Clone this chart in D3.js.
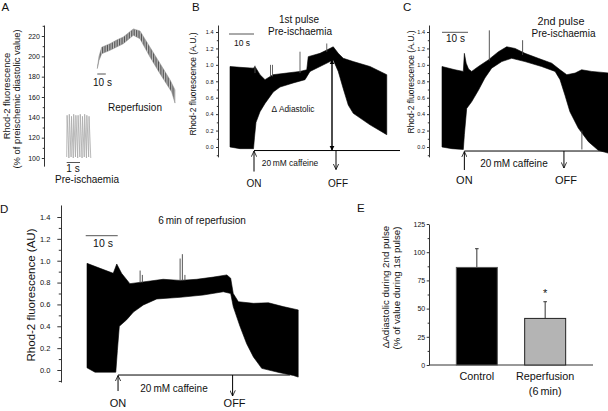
<!DOCTYPE html>
<html><head><meta charset="utf-8">
<script src="https://cdn.jsdelivr.net/npm/d3@7"></script>
<style>
body{margin:0;background:#fff}
svg{display:block}
text{font-family:"Liberation Sans",Arial,sans-serif;fill:#111}
</style>
</head><body>
<svg id="c" width="608" height="411"></svg>
<script>
// ---------------- DATA ----------------
// Panel A (y: % of preischemic diastolic value)
const aTicks = [100, 120, 140, 160, 180, 200, 220];
const aMinor = [110, 130, 150, 170, 190, 210, 230];
// pre-ischaemia beats (time s, value)
const aPreT = [0, 0.03, 0.165, 0.195, 0.33, 0.36, 0.495, 0.525, 0.66, 0.69, 0.825, 0.855, 0.99, 1.02, 1.155, 1.185, 1.32, 1.35, 1.485, 1.515, 1.65, 1.68, 1.81];
const aPreV = [101, 142, 100, 143, 101, 141, 100, 143, 101, 142, 100, 142, 101, 143, 100, 141, 101, 143, 100, 142, 101, 141, 100];
// reperfusion envelope (time s)
const aRepUpT = [0, 2.0, 5.2, 14.9, 22.8, 30.6, 42.4, 50.2, 62.0, 73.8, 85.5, 91.4];
const aRepUpV = [188, 200, 209, 212.4, 216, 219, 227, 225, 209, 193, 177, 167];
const aRepLoT = [0, 2.0, 5.2, 14.9, 30.6, 42.4, 50.2, 62.0, 73.8, 87.5, 91.4];
const aRepLoV = [188, 196, 202.6, 205.9, 212.4, 220.7, 217.3, 199.3, 182.9, 164.9, 154];

// Trace axes (A.U.)
const traceTicks = [0.0, 0.2, 0.4, 0.6, 0.8, 1.0, 1.2, 1.4];
const traceMinor = [-0.1, 0.1, 0.3, 0.5, 0.7, 0.9, 1.1, 1.3];

// Panel B: 1st pulse, pre-ischaemia
const bUpT = [0, 4, 9.3, 10.0, 10.6, 12, 14, 17.2, 22.7, 28, 30.7, 31.3, 36, 38.7, 41.3, 43.3, 45.3, 49.3, 56, 62.7];
const bUpV = [0.98, 0.97, 0.96, 0.98, 0.95, 0.88, 0.82, 0.88, 0.90, 0.92, 0.94, 1.10, 1.14, 1.18, 1.22, 1.14, 1.08, 1.04, 0.98, 0.88];
const bLoT = [0, 4, 9.4, 9.8, 10.4, 12, 14, 17.3, 20, 25.3, 30, 32, 36, 40, 41.3, 43.3, 45.3, 47.3, 49.3, 56, 62.7];
const bLoV = [0.0, -0.02, -0.02, 0.12, 0.30, 0.43, 0.53, 0.67, 0.73, 0.78, 0.82, 0.92, 0.98, 1.04, 1.06, 0.92, 0.71, 0.51, 0.41, 0.27, 0.15];
const bSpikeT = [10.0, 16.2, 17.0, 28.0, 38.7];
const bSpikeLo = [0.9, 0.86, 0.86, 0.9, 1.16];
const bSpikeHi = [0.99, 1.0, 1.0, 1.16, 1.26];
const bCaffeine = [9.6, 42.4, 68];   // ON, OFF, end of line (s)
const bDelta = [40.8, -0.04, 1.06];  // time, from, to

// Panel C: 2nd pulse, pre-ischaemia
const cUpT = [0, 5, 8.2, 8.6, 9.3, 10.2, 11.4, 14, 17.8, 21.7, 24.9, 28.1, 31.9, 37, 42.2, 45.4, 48, 51.2, 53.7, 57.6, 64.5];
const cUpV = [0.98, 0.94, 0.92, 1.14, 1.02, 0.95, 0.92, 0.98, 1.06, 1.16, 1.22, 1.20, 1.14, 1.08, 1.02, 0.94, 0.88, 0.90, 0.94, 0.92, 0.90];
const cLoT = [0, 3.8, 8.2, 8.6, 9.5, 11.4, 14, 16.5, 19.1, 23, 26.8, 31.9, 38.3, 43.5, 45.4, 47.3, 49.2, 52.4, 56.3, 60.1, 64.5];
const cLoV = [0.0, -0.02, -0.03, 0.15, 0.47, 0.55, 0.69, 0.84, 0.96, 1.04, 1.08, 1.04, 0.98, 0.92, 0.82, 0.63, 0.43, 0.23, 0.065, -0.04, -0.08];
const cSpikeT = [18.2, 31.0, 53.8];
const cSpikeLo = [1.05, 1.12, -0.03];
const cSpikeHi = [1.42, 1.30, 0.2];
const cCaffeine = [8.6, 46.9, 66];

// Panel D: 6 min of reperfusion
const dUpT = [0, 4.1, 8.2, 9.3, 10.8, 13.4, 18.7, 23.8, 29.1, 34.3, 39.5, 43.7, 44.9, 45.7, 47.3, 52, 56.7, 61.3, 66];
const dUpV = [0.976, 0.93, 0.885, 0.97, 0.885, 0.79, 0.81, 0.83, 0.82, 0.83, 0.85, 0.87, 0.84, 0.70, 0.625, 0.61, 0.615, 0.58, 0.55];
const dLoT = [0, 2.5, 9.0, 9.5, 10.1, 12.4, 14.5, 17.6, 21.8, 29.1, 36.3, 42.6, 44.9, 45.7, 47.8, 49.9, 52, 54.6, 60.3, 64.5, 66];
const dLoV = [0.02, -0.02, -0.02, 0.18, 0.40, 0.46, 0.53, 0.595, 0.65, 0.665, 0.686, 0.716, 0.70, 0.58, 0.40, 0.24, 0.12, 0.015, -0.025, -0.05, -0.065];
const dSpikeT = [16.6, 17.3, 29.1, 29.8, 30.6];
const dSpikeLo = [0.8, 0.8, 0.82, 0.82, 0.82];
const dSpikeHi = [0.91, 0.87, 1.02, 1.06, 0.87];
const dCaffeine = [9.7, 45.5, 63.4];

// Panel E
const eCategories = ["Control", "Reperfusion"];
const eMeans = [86.5, 41.3];
const eSem = [16.6, 14.8];
const eTicks = [0, 25, 50, 75, 100, 125];
const eMinor = [12.5, 37.5, 62.5, 87.5, 112.5];

// ---------------- DRAWING ----------------
const svg = d3.select("#c");
const defs = svg.append("defs");
const hatch = defs.append("pattern").attr("id", "hatch").attr("patternUnits", "userSpaceOnUse")
  .attr("width", 1.7).attr("height", 4);
hatch.append("rect").attr("width", 1.7).attr("height", 4).attr("fill", "#c4c4c4");
hatch.append("rect").attr("width", 0.8).attr("height", 4).attr("fill", "#4a4a4a");
const fHead = defs.append("marker").attr("id", "arrowF").attr("viewBox", "0 0 10 10").attr("refX", 9).attr("refY", 5)
  .attr("markerWidth", 5).attr("markerHeight", 6).attr("orient", "auto-start-reverse").attr("markerUnits", "userSpaceOnUse");
fHead.append("path").attr("d", "M0,0L10,5L0,10Z").attr("fill", "#000");
const openHead = defs.append("marker").attr("id", "arrowO").attr("viewBox", "0 0 10 10").attr("refX", 9.5).attr("refY", 5)
  .attr("markerWidth", 6).attr("markerHeight", 6).attr("orient", "auto").attr("markerUnits", "userSpaceOnUse");
openHead.append("path").attr("d", "M0,0.5L9.5,5L0,9.5").attr("fill", "none").attr("stroke", "#000").attr("stroke-width", 1.3);

function txt(x, y, s, size, anchor = "middle", rot = 0) {
  const t = svg.append("text").attr("font-size", size).attr("text-anchor", anchor).text(s);
  if (rot) t.attr("transform", `translate(${x},${y}) rotate(${rot})`);
  else t.attr("x", x).attr("y", y);
  return t;
}

function yAxis(x0, scale, ext, major, minor, fmt, size, pad, fs) {
  const s = scale.copy().domain(ext).range(ext.map(scale));
  const g = svg.append("g").attr("transform", `translate(${x0},0)`);
  g.call(d3.axisLeft(s).tickValues(major).tickFormat(fmt).tickSize(size).tickPadding(pad).tickSizeOuter(0));
  const gm = svg.append("g").attr("transform", `translate(${x0},0)`);
  gm.call(d3.axisLeft(s).tickValues(minor.filter(v => v >= ext[0] && v <= ext[1])).tickFormat("").tickSize(size * 0.6).tickSizeOuter(0));
  gm.select(".domain").remove();
  [g, gm].forEach(gg => {
    gg.attr("font-family", null).attr("font-size", null);
    gg.selectAll("line,path").attr("stroke", "#333").attr("stroke-width", 1);
    gg.selectAll("text").attr("font-size", fs).attr("fill", "#222");
  });
}

function bandPath(xs, ys, upT, upV, loT, loV) {
  const pts = upT.map((t, i) => [xs(t), ys(upV[i])]);
  for (let i = loT.length - 1; i >= 0; i--) pts.push([xs(loT[i]), ys(loV[i])]);
  return d3.line()(pts) + "Z";
}

function spikes(xs, ys, T, lo, hi, color) {
  svg.append("g").selectAll("line").data(T).join("line")
    .attr("x1", d => xs(d)).attr("x2", d => xs(d))
    .attr("y1", (d, i) => ys(lo[i])).attr("y2", (d, i) => ys(hi[i]))
    .attr("stroke", color).attr("stroke-width", 0.9);
}

function scaleBar(xs, y, t0, t1) {
  svg.append("line").attr("x1", xs(t0)).attr("x2", xs(t1)).attr("y1", y).attr("y2", y)
    .attr("stroke", "#555").attr("stroke-width", 1);
}

function caffeine(xs, ys, lev, ev, armOn, armOff, onY, offY, cx, cy, fsCaf, fsOn) {
  const y0 = ys(lev);
  svg.append("line").attr("x1", xs(ev[0])).attr("x2", xs(ev[2])).attr("y1", y0).attr("y2", y0)
    .attr("stroke", "#000").attr("stroke-width", 1);
  svg.append("line").attr("x1", xs(ev[0])).attr("x2", xs(ev[0])).attr("y1", y0 + armOn).attr("y2", y0 + 0.5)
    .attr("stroke", "#000").attr("stroke-width", 1).attr("marker-end", "url(#arrowO)");
  svg.append("line").attr("x1", xs(ev[1])).attr("x2", xs(ev[1])).attr("y1", y0).attr("y2", y0 + armOff)
    .attr("stroke", "#000").attr("stroke-width", 1).attr("marker-end", "url(#arrowO)");
  txt(xs(ev[0]), onY, "ON", fsOn);
  txt(xs(ev[1]) + 2, offY, "OFF", fsOn);
  txt(cx, cy, "20\u2009mM caffeine", fsCaf);
}

function trace(xs, ys, upT, upV, loT, loV) {
  svg.append("path").attr("d", bandPath(xs, ys, upT, upV, loT, loV))
    .attr("fill", "#000").attr("stroke", "#000").attr("stroke-width", 0.6).attr("stroke-linejoin", "round");
}

// ---- Panel A ----
const yA = d3.scaleLinear().domain([100, 220]).range([158, 36]);
const xAp = d3.scaleLinear().domain([0, 1]).range([66.7, 80]);
const xAr = d3.scaleLinear().domain([0, 10]).range([97.3, 105.8]);
yAxis(44, yA, [92, 230.8], aTicks, aMinor, d => d, 2.2, 2, 7);
svg.append("path").attr("d", d3.line()(aPreT.map((t, i) => [xAp(t), yA(aPreV[i])])))
  .attr("fill", "none").attr("stroke", "#a8a8a8").attr("stroke-width", 0.8);
svg.append("path").attr("d", bandPath(xAr, yA, aRepUpT, aRepUpV, aRepLoT, aRepLoV))
  .attr("fill", "url(#hatch)").attr("stroke", "#888").attr("stroke-width", 0.5);
scaleBar(xAp, 162.5, 0, 1);
scaleBar(xAr, 74, 0, 10);
txt(102.5, 86, "10 s", 10);
txt(135, 110.7, "Reperfusion", 10);
txt(73, 171.5, "1 s", 10);
txt(87, 182.7, "Pre-ischaemia", 10);
txt(9.5, 96, "Rhod-2 fluorescence", 9.4, "middle", -90);
txt(19.5, 99, "(% of preischemic diastolic value)", 9.4, "middle", -90);
txt(1.5, 10.5, "A", 11.5, "start");

// ---- Panel B ----
const yB = d3.scaleLinear().domain([0, 1.4]).range([147, 32]);
const xB = d3.scaleLinear().domain([0, 10]).range([230, 255]);
yAxis(218, yB, [-0.12, 1.485], traceTicks, traceMinor, d3.format(".1f"), 2, 2.5, 5.5);
trace(xB, yB, bUpT, bUpV, bLoT, bLoV);
spikes(xB, yB, bSpikeT, bSpikeLo, bSpikeHi, "#555");
scaleBar(xB, 34, -0.4, 9.6);
txt(242, 45.5, "10 s", 8.5);
txt(299, 22.7, "1st pulse", 10);
txt(300, 35, "Pre-ischaemia", 10);
svg.append("line").attr("x1", xB(bDelta[0])).attr("x2", xB(bDelta[0])).attr("y1", yB(bDelta[1])).attr("y2", yB(bDelta[2]))
  .attr("stroke", "#000").attr("stroke-width", 1.4).attr("marker-start", "url(#arrowF)").attr("marker-end", "url(#arrowF)");
txt(293, 111.7, "\u0394 Adiastolic", 8.3);
caffeine(xB, yB, -0.043, bCaffeine, 21, 19, 186.7, 186.7, 290, 165.7, 8.4, 10);
txt(196, 84, "Rhod-2 fluorescence (A.U.)", 8.5, "middle", -90);
txt(192, 10.5, "B", 11.5, "start");

// ---- Panel C ----
const yC = d3.scaleLinear().domain([0, 1.4]).range([147, 32]);
const xC = d3.scaleLinear().domain([0, 10]).range([442, 468]);
yAxis(429, yC, [-0.12, 1.485], traceTicks, traceMinor, d3.format(".1f"), 2, 2, 5.5);
trace(xC, yC, cUpT, cUpV, cLoT, cLoV);
spikes(xC, yC, cSpikeT, cSpikeLo, cSpikeHi, "#444");
scaleBar(xC, 32.3, 0, 10);
txt(455.5, 41.7, "10 s", 10);
txt(561, 25, "2nd pulse", 10.8);
txt(563.5, 37.3, "Pre-ischaemia", 10);
caffeine(xC, yC, -0.049, cCaffeine, 19, 17, 184.3, 184.3, 514, 167.3, 10, 11);
txt(414, 82, "Rhod-2 fluorescence (A.U.)", 8.5, "middle", -90);
txt(403, 10.5, "C", 11.5, "start");

// ---- Panel D ----
const yD = d3.scaleLinear().domain([0, 1.4]).range([370, 217]);
const xD = d3.scaleLinear().domain([0, 10]).range([87, 119]);
yAxis(61, yD, [-0.11, 1.51], traceTicks, traceMinor, d3.format(".1f"), 3.7, 7, 7.5);
trace(xD, yD, dUpT, dUpV, dLoT, dLoV);
spikes(xD, yD, dSpikeT, dSpikeLo, dSpikeHi, "#444");
scaleBar(xD, 235.7, -0.4, 9.6);
txt(103, 246.7, "10 s", 10.5);
txt(202, 224, "6\u2009min of reperfusion", 10);
caffeine(xD, yD, -0.046, dCaffeine, 16, 21, 407.3, 407.3, 174, 391.7, 10, 11);
txt(35, 295, "Rhod-2 fluorescence (AU)", 11.5, "middle", -90);
txt(0, 212.5, "D", 11.5, "start");

// ---- Panel E ----
const yE = d3.scaleLinear().domain([0, 125]).range([365, 224]);
const xE = d3.scaleBand().domain(eCategories).range([429, 593]).paddingInner(0.4).paddingOuter(0.4);
yAxis(429, yE, [0, 125], eTicks, eMinor, d => d, 2.3, 1.5, 7);
svg.append("line").attr("x1", 429).attr("x2", 593).attr("y1", yE(0)).attr("y2", yE(0)).attr("stroke", "#333").attr("stroke-width", 1);
const bw = xE.bandwidth();
eCategories.forEach((c, i) => {
  const x0 = xE(c);
  svg.append("line").attr("x1", x0 + bw / 2).attr("x2", x0 + bw / 2).attr("y1", yE(eMeans[i])).attr("y2", yE(eMeans[i] + eSem[i]))
    .attr("stroke", "#333").attr("stroke-width", 1);
  svg.append("line").attr("x1", x0 + bw / 2 - 1.8).attr("x2", x0 + bw / 2 + 1.8).attr("y1", yE(eMeans[i] + eSem[i])).attr("y2", yE(eMeans[i] + eSem[i]))
    .attr("stroke", "#333").attr("stroke-width", 1);
  svg.append("rect").attr("x", x0).attr("width", bw).attr("y", yE(eMeans[i])).attr("height", yE(0) - yE(eMeans[i]))
    .attr("fill", i === 0 ? "#000" : "#b4b4b4").attr("stroke", i === 0 ? "#555" : "#222").attr("stroke-width", 1);
});
txt(xE("Reperfusion") + bw / 2, 297, "*", 11);
txt(xE("Control") + bw / 2, 380, "Control", 10.8);
txt(xE("Reperfusion") + bw / 2, 380, "Reperfusion", 10.8);
txt(xE("Reperfusion") + bw / 2, 395, "(6\u2009min)", 10.8);
txt(389, 287, "\u0394Adiastolic during 2nd pulse", 9.7, "middle", -90);
txt(399.5, 288, "(% of value during 1st pulse)", 9.7, "middle", -90);
txt(357, 212, "E", 11.5, "start");
</script>
</body></html>
